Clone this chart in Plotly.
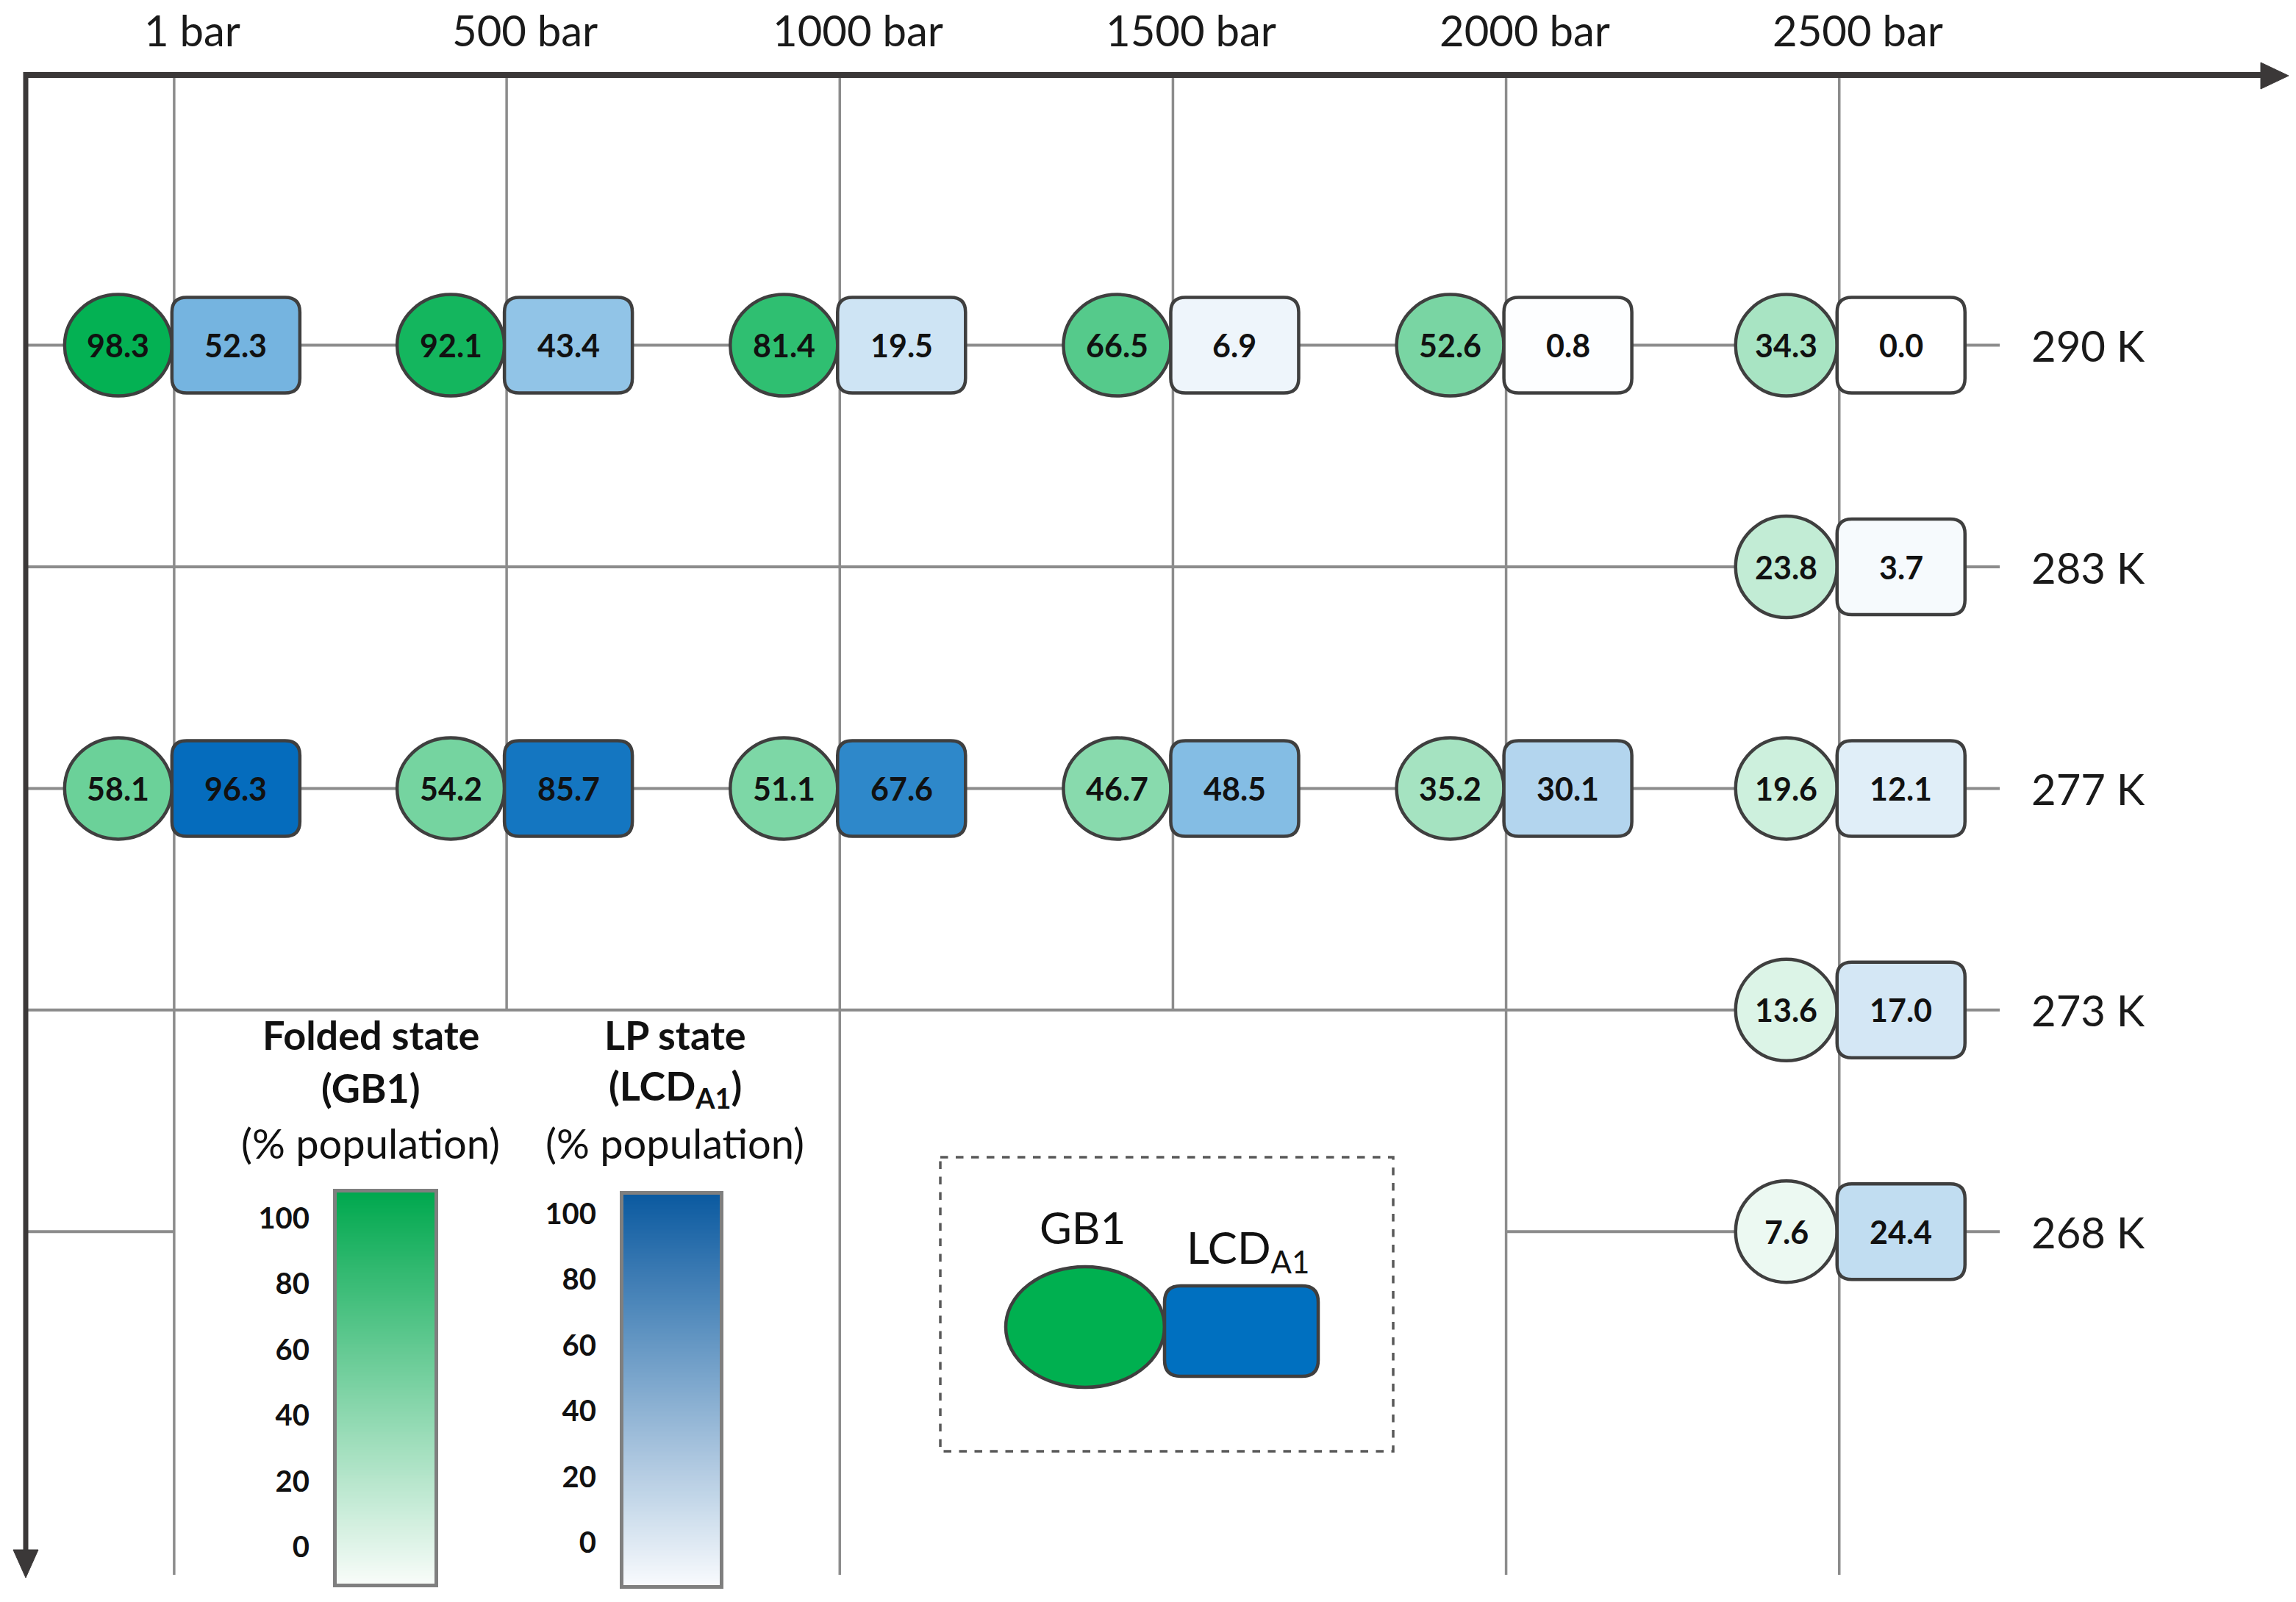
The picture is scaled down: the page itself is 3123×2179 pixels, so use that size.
import numpy as np
import plotly.graph_objects as go
from plotly.colors import sample_colorscale

# ---------------- data ----------------
pressures = [1, 500, 1000, 1500, 2000, 2500]
pressure_labels = ["1 bar", "500 bar", "1000 bar", "1500 bar", "2000 bar", "2500 bar"]
temperatures = [290, 283, 277, 273, 268]
temperature_labels = ["290 K", "283 K", "277 K", "273 K", "268 K"]

cell_pressure = [1, 500, 1000, 1500, 2000, 2500,
                 2500,
                 1, 500, 1000, 1500, 2000, 2500,
                 2500,
                 2500]
cell_temperature = [290, 290, 290, 290, 290, 290,
                    283,
                    277, 277, 277, 277, 277, 277,
                    273,
                    268]
gb1_folded = [98.3, 92.1, 81.4, 66.5, 52.6, 34.3,
              23.8,
              58.1, 54.2, 51.1, 46.7, 35.2, 19.6,
              13.6,
              7.6]
lcd_lp = [52.3, 43.4, 19.5, 6.9, 0.8, 0.0,
          3.7,
          96.3, 85.7, 67.6, 48.5, 30.1, 12.1,
          17.0,
          24.4]
legend_ticks = [0, 20, 40, 60, 80, 100]

# ---------------- layout constants ----------------
W, H = 3123, 2179
PX_AT_0BAR, PX_PER_BAR = 235.95, 0.90632
ROW0_PX, ROW_STEP_PX = 469.6, 301.4
FONT = "Lato"
GRID = "#8c8c8c"
AXIS = "#3b3838"
OUTLINE = "#3f3f3f"

green_scale = [[0, "#ffffff"], [1, "#00b050"]]
blue_scale = [[0, "#ffffff"], [0.3, "#b3d5ee"], [0.5, "#80bbe3"], [0.68, "#2c87c9"], [1, "#0068bb"]]
green_ramp_scale = [[0, "#f8fcf9"], [1, "#00a84e"]]
blue_ramp_scale = [[0, "#f8fafd"], [1, "#0b5aa0"]]


def xb(px):   # pixel -> pressure axis value
    return (px - PX_AT_0BAR) / PX_PER_BAR


def yr(py):   # pixel -> row axis value
    return (py - ROW0_PX) / ROW_STEP_PX


def pxp(px):  # pixel -> paper x
    return px / W


def pyp(py):  # pixel -> paper y
    return 1 - py / H


row_of = {t: i for i, t in enumerate(temperatures)}

fig = go.Figure()
shapes = []
annotations = []

# ---------------- grid lines ----------------
LEFT_AXIS_PX, TOP_AXIS_PX, BOTTOM_PX, STUB_END_PX = 35, 101, 2142, 2720
for t in temperatures:
    r = row_of[t]
    if t == 268:
        segs = [(xb(LEFT_AXIS_PX), pressures[0]), (pressures[4], xb(STUB_END_PX))]
    else:
        segs = [(xb(LEFT_AXIS_PX), xb(STUB_END_PX))]
    for a, b in segs:
        shapes.append(dict(type="line", xref="x", yref="y", x0=a, x1=b, y0=r, y1=r,
                           line=dict(color=GRID, width=4), layer="above"))

vline_stop = [None, 273, None, 273, None, None]
for p, stop in zip(pressures, vline_stop):
    y1 = row_of[stop] if stop is not None else yr(BOTTOM_PX)
    shapes.append(dict(type="line", xref="x", yref="y", x0=p, x1=p, y0=yr(TOP_AXIS_PX), y1=y1,
                       line=dict(color=GRID, width=3.5), layer="above"))

# ---------------- axes arrows ----------------
shapes.append(dict(type="line", xref="paper", yref="paper", x0=pxp(32), x1=pxp(3080),
                   y0=pyp(102), y1=pyp(102), line=dict(color=AXIS, width=8)))
shapes.append(dict(type="path", xref="paper", yref="paper",
                   path=f"M {pxp(3113)},{pyp(103)} L {pxp(3075)},{pyp(85)} L {pxp(3075)},{pyp(121)} Z",
                   fillcolor=AXIS, line=dict(color=AXIS, width=1)))
shapes.append(dict(type="line", xref="paper", yref="paper", x0=pxp(35), x1=pxp(35),
                   y0=pyp(98), y1=pyp(2112), line=dict(color=AXIS, width=7)))
shapes.append(dict(type="path", xref="paper", yref="paper",
                   path=f"M {pxp(35)},{pyp(2146)} L {pxp(18)},{pyp(2108)} L {pxp(52)},{pyp(2108)} Z",
                   fillcolor=AXIS, line=dict(color=AXIS, width=1)))


def rounded_rect_path(x0, x1, y0, y1, r):
    return (f"M {x0 + r},{y0} L {x1 - r},{y0} Q {x1},{y0} {x1},{y0 + r} "
            f"L {x1},{y1 - r} Q {x1},{y1} {x1 - r},{y1} L {x0 + r},{y1} "
            f"Q {x0},{y1} {x0},{y1 - r} L {x0},{y0 + r} Q {x0},{y0} {x0 + r},{y0} Z")


# ---------------- cells ----------------
green_cols = sample_colorscale(green_scale, [v / 100 for v in gb1_folded])
blue_cols = sample_colorscale(blue_scale, [v / 100 for v in lcd_lp])
JOIN = -3
CELL_FONT = dict(family=FONT, size=43, color="#111111", weight="bold")
for p, t, g, b, gc, bc in zip(cell_pressure, cell_temperature, gb1_folded, lcd_lp, green_cols, blue_cols):
    r = row_of[t]
    ew = 138 if p == pressures[-1] else 146
    shapes.append(dict(type="circle", xref="x", yref="y", xsizemode="pixel", ysizemode="pixel",
                       xanchor=p, yanchor=r, x0=JOIN - ew, x1=JOIN, y0=-69, y1=69,
                       fillcolor=gc, line=dict(color=OUTLINE, width=4.5), layer="above"))
    shapes.append(dict(type="path", xref="x", yref="y", xsizemode="pixel", ysizemode="pixel",
                       xanchor=p, yanchor=r, path=rounded_rect_path(JOIN, JOIN + 174, -65, 65, 20),
                       fillcolor=bc, line=dict(color=OUTLINE, width=4.5), layer="above"))
    annotations.append(dict(x=p, y=r, xref="x", yref="y", xshift=JOIN - ew / 2, text=f"{g:.1f}",
                            xanchor="center", yanchor="middle", showarrow=False, font=CELL_FONT))
    annotations.append(dict(x=p, y=r, xref="x", yref="y", xshift=JOIN + 87, text=f"{b:.1f}",
                            xanchor="center", yanchor="middle", showarrow=False, font=CELL_FONT))

# ---------------- column and row labels ----------------
for p, lab in zip(pressures, pressure_labels):
    annotations.append(dict(x=p, y=pyp(40), xref="x", yref="paper", xshift=25, text=lab,
                            showarrow=False, xanchor="center", yanchor="middle",
                            font=dict(family=FONT, size=58, color="#1a1a1a")))
for t, lab in zip(temperatures, temperature_labels):
    annotations.append(dict(x=pxp(2761), y=row_of[t], xref="paper", yref="y", xanchor="left",
                            yanchor="middle", text=lab, showarrow=False,
                            font=dict(family=FONT, size=58, color="#1a1a1a")))

# ---------------- colour ramps (legend) ----------------
ramps = [
    ("x2", "y2", green_ramp_scale, (458, 591), (1622, 2154), (-11.2, 107.8)),
    ("x3", "y3", blue_ramp_scale, (848, 979), (1625, 2156), (-12.9, 105.8)),
]
axis_updates = {}
for xa, ya, scale, (xl, xr), (yt, ybt), (lo, hi) in ramps:
    ramp = np.linspace(lo, hi, 240)
    fig.add_trace(go.Heatmap(z=[[v] for v in ramp], y=ramp, x=[0], colorscale=scale,
                             zmin=lo, zmax=hi, showscale=False, hoverinfo="skip",
                             xaxis=xa, yaxis=ya))
    xname = "xaxis" + xa[1:]
    yname = "yaxis" + ya[1:]
    axis_updates[xname] = dict(domain=[pxp(xl), pxp(xr)], anchor=ya, range=[-0.5, 0.5],
                               showticklabels=False, ticks="", showgrid=False, zeroline=False,
                               showline=True, mirror=True, linecolor="#7f7f7f", linewidth=5,
                               fixedrange=True)
    axis_updates[yname] = dict(domain=[pyp(ybt), pyp(yt)], anchor=xa, range=[lo, hi],
                               tickvals=legend_ticks, ticktext=[str(v) for v in legend_ticks],
                               ticks="", showgrid=False, zeroline=False, ticklabelstandoff=24,
                               tickfont=dict(family=FONT, size=40, color="#111111", weight="bold"),
                               showline=True, mirror=True, linecolor="#7f7f7f", linewidth=5,
                               fixedrange=True)

# legend titles
legend_titles = [
    (504, 1408, "<b>Folded state</b>", 54), (504, 1480, "<b>(GB1)</b>", 54),
    (504, 1554, "(% population)", 56),
    (918, 1408, "<b>LP state</b>", 54), (918, 1480, "<b>(LCD<sub>A1</sub>)</b>", 54),
    (918, 1554, "(% population)", 56),
]
for x, y, txt, fs in legend_titles:
    annotations.append(dict(x=pxp(x), y=pyp(y), xref="paper", yref="paper", text=txt,
                            showarrow=False, xanchor="center", yanchor="middle",
                            font=dict(family=FONT, size=fs, color="#111111")))

# ---------------- schematic key (dashed box) ----------------
shapes.append(dict(type="rect", xref="paper", yref="paper", x0=pxp(1279), x1=pxp(1895),
                   y0=pyp(1574), y1=pyp(1974), line=dict(color="#595959", width=3.5, dash="dash"),
                   fillcolor="rgba(0,0,0,0)"))
shapes.append(dict(type="circle", xref="paper", yref="paper", x0=pxp(1368), x1=pxp(1584),
                   y0=pyp(1887), y1=pyp(1723), fillcolor="#00b050",
                   line=dict(color=OUTLINE, width=4.5)))
kx0, kx1, ky0, ky1, kr = 1584, 1793, 1749, 1872, 22
key_path = (f"M {pxp(kx0 + kr)},{pyp(ky0)} L {pxp(kx1 - kr)},{pyp(ky0)} Q {pxp(kx1)},{pyp(ky0)} {pxp(kx1)},{pyp(ky0 + kr)} "
            f"L {pxp(kx1)},{pyp(ky1 - kr)} Q {pxp(kx1)},{pyp(ky1)} {pxp(kx1 - kr)},{pyp(ky1)} "
            f"L {pxp(kx0 + kr)},{pyp(ky1)} Q {pxp(kx0)},{pyp(ky1)} {pxp(kx0)},{pyp(ky1 - kr)} "
            f"L {pxp(kx0)},{pyp(ky0 + kr)} Q {pxp(kx0)},{pyp(ky0)} {pxp(kx0 + kr)},{pyp(ky0)} Z")
shapes.append(dict(type="path", xref="paper", yref="paper", path=key_path, fillcolor="#0070c0",
                   line=dict(color=OUTLINE, width=4.5)))
annotations.append(dict(x=pxp(1472), y=pyp(1669), xref="paper", yref="paper", text="GB1",
                        showarrow=False, xanchor="center", yanchor="middle",
                        font=dict(family=FONT, size=60, color="#111111")))
annotations.append(dict(x=pxp(1698), y=pyp(1700), xref="paper", yref="paper", text="LCD<sub>A1</sub>",
                        showarrow=False, xanchor="center", yanchor="middle",
                        font=dict(family=FONT, size=60, color="#111111")))

fig.update_layout(
    width=W, height=H, margin=dict(l=0, r=0, t=0, b=0),
    template="none", paper_bgcolor="white", plot_bgcolor="rgba(0,0,0,0)",
    showlegend=False,
    xaxis=dict(domain=[0, 1], range=[xb(0), xb(W)], visible=False, fixedrange=True),
    yaxis=dict(domain=[0, 1], range=[yr(H), yr(0)], visible=False, fixedrange=True),
    shapes=shapes, annotations=annotations,
    **axis_updates,
)

fig.write_html("out.html", config={"displayModeBar": False},
               post_script="document.body.style.margin='0px';document.body.style.padding='0px';")
